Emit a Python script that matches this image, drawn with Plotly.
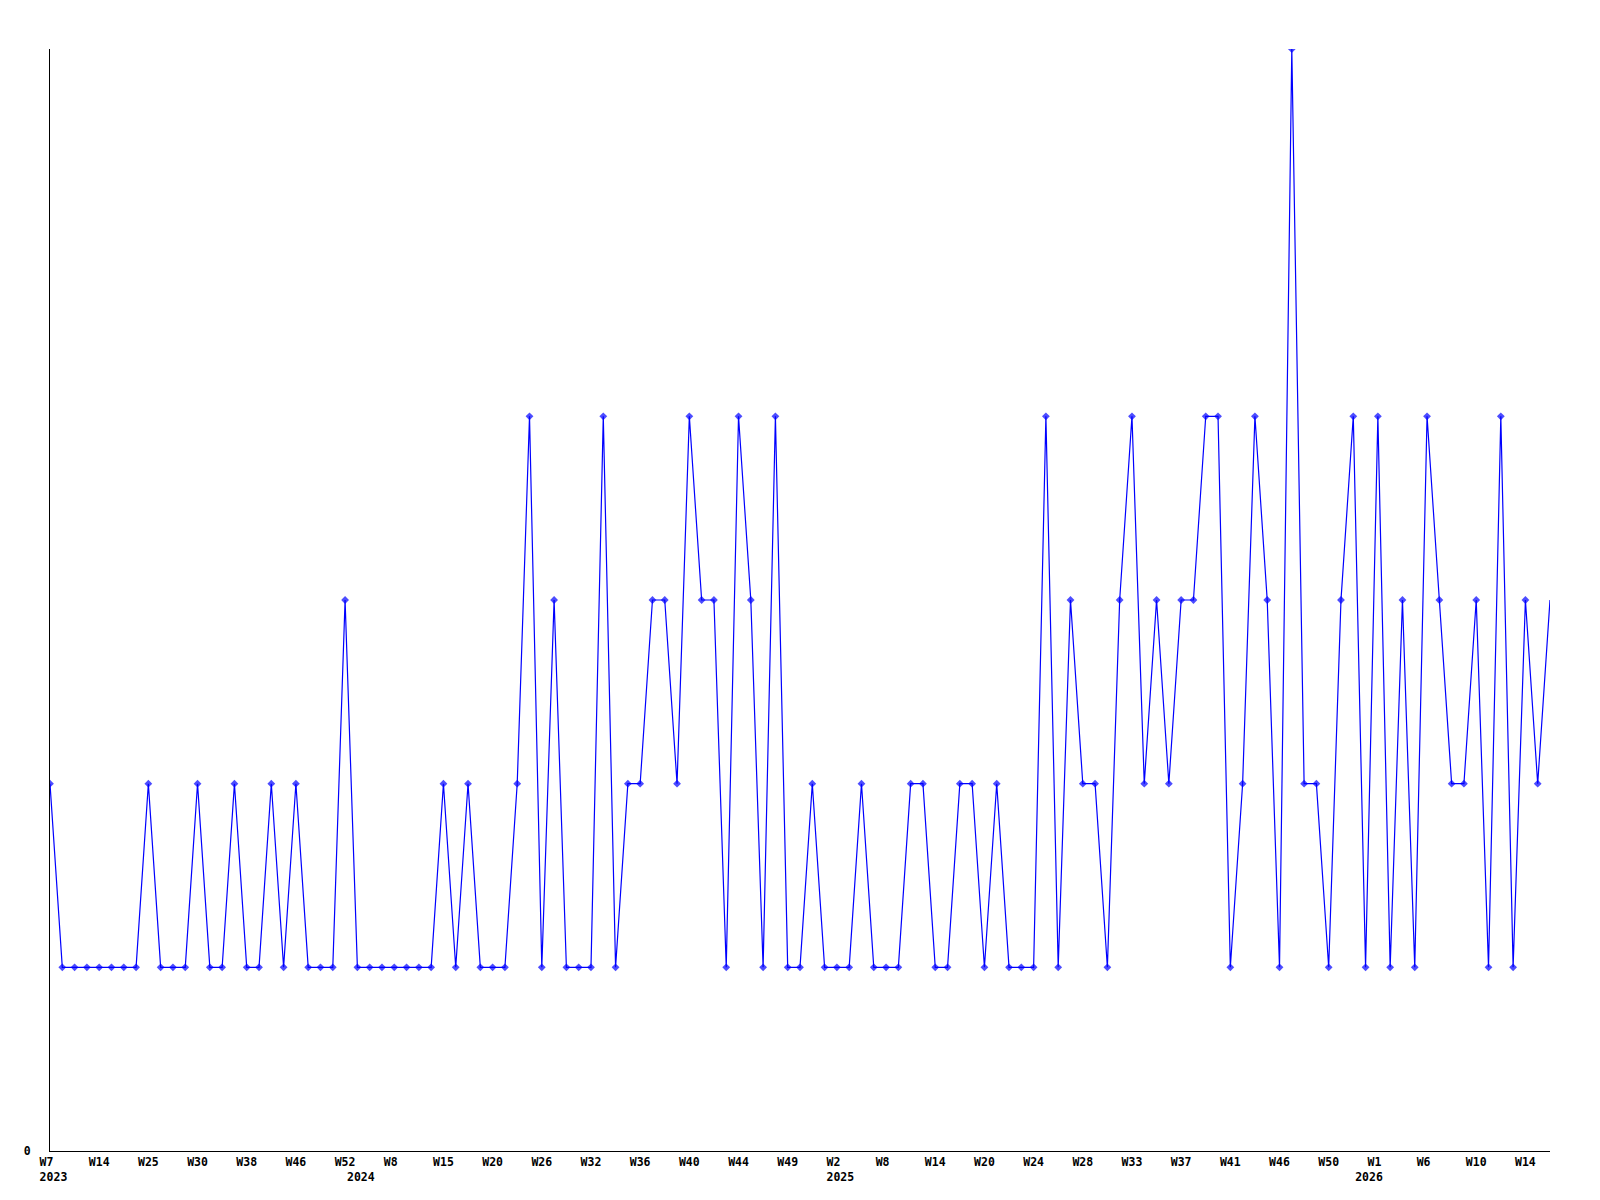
import plotly.graph_objects as go

NB = "\u00a0"

# Week categories (only weeks with data are present)
weeks_2023 = [7, 9, 11, 12, 14, 17, 20, 23, 25, 26, 28, 29, 30, 32, 34, 36, 38, 40, 42, 44, 46, 47, 49, 51, 52]
weeks_2024 = [0, 2, 5, 8, 10, 12, 13, 15, 16, 18, 19, 20, 22, 23, 25, 26, 28, 29, 31, 32, 33, 34, 35, 36, 37,
              38, 39, 40, 41, 42, 43, 44, 45, 46, 48, 49, 50, 51, 52]
weeks_2025 = [2, 3, 5, 7, 8, 10, 11, 12, 14, 16, 17, 18, 20, 21, 22, 23, 24, 25, 26, 27, 28, 29, 31, 32, 33,
              34, 35, 36, 37, 38, 39, 40, 41, 42, 43, 44, 46, 47, 48, 49, 50, 51, 52]
weeks_2026 = [0, 1, 2, 3, 5, 6, 7, 8, 9, 10, 11, 12, 13, 14, 15, 16]

values = [2, 1, 1, 1, 1, 1, 1, 1, 2, 1, 1, 1, 2, 1, 1, 2, 1, 1, 2, 1, 2, 1, 1, 1, 3,
          1, 1, 1, 1, 1, 1, 1, 2, 1, 2, 1, 1, 1, 2, 4, 1, 3, 1, 1, 1, 4, 1, 2, 2, 3,
          3, 2, 4, 3, 3, 1, 4, 3, 1, 4, 1, 1, 2, 1, 1, 1, 2, 1, 1, 1, 2, 2, 1, 1, 2,
          2, 1, 2, 1, 1, 1, 4, 1, 3, 2, 2, 1, 3, 4, 2, 3, 2, 3, 3, 4, 4, 1, 2, 4, 3,
          1, 6, 2, 2, 1, 3, 4, 1, 4, 1, 3, 1, 4, 3, 2, 2, 3, 1, 4, 1, 3, 2, 3]

weeks = ([f"2023-W{w:02d}" for w in weeks_2023] + [f"2024-W{w:02d}" for w in weeks_2024] +
         [f"2025-W{w:02d}" for w in weeks_2025] + [f"2026-W{w:02d}" for w in weeks_2026])

# Tick labels every 4th point, year label at first point of each year
tick_step = 4
year_starts = {}
for i, wk in enumerate(weeks):
    y = wk[:4]
    if y not in year_starts:
        year_starts[y] = i

tickvals, ticktext = [], []
for i, wk in enumerate(weeks):
    is_tick = i % tick_step == 0
    year = wk[:4]
    is_year = year_starts[year] == i
    if not (is_tick or is_year):
        continue
    wnum = int(wk[6:])
    line1 = f"W{wnum}" if is_tick else ""
    line1 = line1 + NB * (3 - len(line1)) if len(line1) < 3 else line1
    if is_year:
        text = f"{line1}<br>{NB}{year}"
    else:
        text = line1
    tickvals.append(wk)
    ticktext.append(text)

marker_sizes = [6] * (len(values) - 1) + [0]

fig = go.Figure()
fig.add_trace(go.Scatter(
    x=weeks, y=values, mode="lines+markers",
    line=dict(color="#0000FF", width=1.2),
    marker=dict(symbol="diamond", size=marker_sizes, color="#0000FF", line=dict(width=0)),
    showlegend=False,
))

font = dict(family="DejaVu Sans Mono", size=11.5, color="black", weight="bold")

fig.update_layout(
    width=1592, height=1192,
    margin=dict(l=42, r=50, t=41, b=49),
    paper_bgcolor="white", plot_bgcolor="white",
    font=font,
    xaxis=dict(
        type="category", categoryorder="array", categoryarray=weeks,
        range=[0, len(weeks) - 1],
        tickmode="array", tickvals=tickvals, ticktext=ticktext, tickangle=0,
        showgrid=False, zeroline=False, showline=True, linecolor="black", linewidth=1,
        ticks="", tickfont=font, ticklabelstandoff=0,
    ),
    yaxis=dict(
        range=[0, 6], tickmode="array", tickvals=[0], ticktext=["0"],
        showgrid=False, zeroline=False, showline=True, linecolor="black", linewidth=1,
        ticks="", tickfont=font, ticklabelstandoff=16,
    ),
)

fig.write_html("out.html")
